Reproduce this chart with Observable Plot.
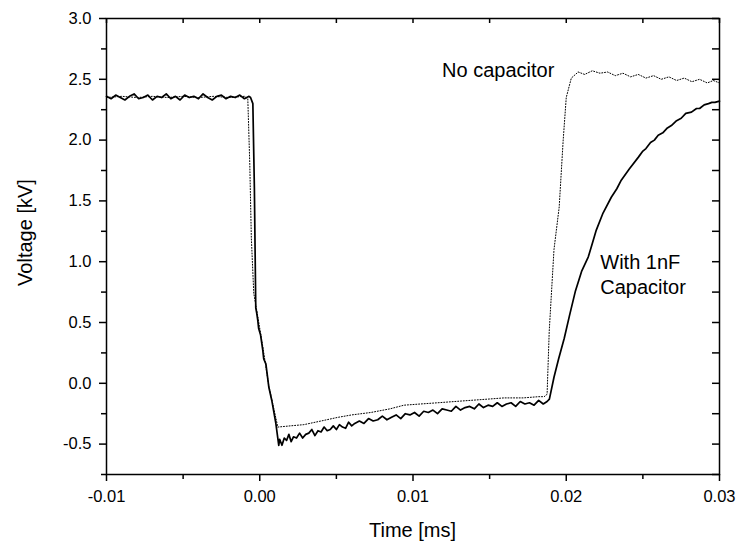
<!DOCTYPE html>
<html>
<head>
<meta charset="utf-8">
<script src="https://cdn.jsdelivr.net/npm/d3@7"></script>
<script src="https://cdn.jsdelivr.net/npm/@observablehq/plot@0.6"></script>
<style>
  html, body { margin: 0; padding: 0; background: white; }
</style>
</head>
<body>
<div id="chart"></div>
<script>
// With 1nF capacitor (solid trace), time in ms, voltage in kV
const tSolid = [
  -0.0100,-0.0097,-0.0094,-0.0091,-0.0088,-0.0085,-0.0082,-0.0079,-0.0076,-0.0073,
  -0.0070,-0.0067,-0.0064,-0.0061,-0.0058,-0.0055,-0.0052,-0.0049,-0.0046,-0.0043,
  -0.0040,-0.0037,-0.0034,-0.0031,-0.0028,-0.0025,-0.0022,-0.0019,-0.0016,-0.0013,
  -0.0010,-0.0007,-0.0006,
  -0.00045,-0.00035,-0.00026,-0.00020,-0.00013,-0.00007,0.00005,0.00020,0.00026,0.00040,
  0.00059,0.00080,0.00105,0.00124,
  0.00130,0.00145,0.00160,0.00175,0.00190,0.00205,0.00220,0.00240,0.00260,0.00280,
  0.00300,0.00320,0.00340,0.00360,0.00380,0.00400,0.00420,0.00440,0.00460,0.00480,
  0.00500,0.00520,0.00540,0.00560,0.00580,0.00600,0.00620,0.00650,0.00680,0.00710,
  0.00740,0.00770,0.00800,0.00830,0.00860,0.00890,0.00920,0.00950,0.00980,0.01010,
  0.01040,0.01070,0.01100,0.01130,0.01160,0.01190,0.01220,0.01250,0.01280,0.01310,
  0.01340,0.01370,0.01400,0.01430,0.01460,0.01490,0.01520,0.01550,0.01580,0.01610,
  0.01640,0.01670,0.01700,0.01730,0.01760,0.01790,0.01820,0.01850,0.01875,
  0.01890,0.01920,0.01950,0.01987,0.02020,0.02060,0.02100,0.02144,0.02170,0.02196,
  0.02240,0.02294,0.02330,0.02359,0.02410,0.02471,0.02500,0.02520,0.02550,0.02575,
  0.02600,0.02630,0.02660,0.02686,0.02720,0.02750,0.02780,0.02817,0.02850,0.02870,
  0.02900,0.02928,0.02950,0.02970,0.03000
];
const vSolid = [
  2.36,2.34,2.37,2.35,2.33,2.36,2.38,2.34,2.35,2.37,
  2.33,2.36,2.35,2.38,2.34,2.36,2.33,2.37,2.35,2.36,
  2.34,2.38,2.35,2.33,2.36,2.37,2.34,2.36,2.35,2.37,
  2.34,2.36,2.35,
  2.30,1.60,0.62,0.58,0.52,0.45,0.40,0.27,0.20,0.16,
  -0.03,-0.15,-0.33,-0.51,
  -0.46,-0.51,-0.45,-0.47,-0.42,-0.48,-0.44,-0.45,-0.41,-0.45,
  -0.42,-0.41,-0.38,-0.43,-0.39,-0.40,-0.36,-0.39,-0.38,-0.35,
  -0.38,-0.34,-0.36,-0.37,-0.32,-0.35,-0.33,-0.31,-0.33,-0.29,
  -0.31,-0.30,-0.27,-0.30,-0.28,-0.26,-0.29,-0.25,-0.26,-0.24,
  -0.27,-0.23,-0.24,-0.22,-0.25,-0.21,-0.22,-0.23,-0.19,-0.22,
  -0.20,-0.19,-0.21,-0.17,-0.20,-0.18,-0.19,-0.16,-0.19,-0.17,
  -0.16,-0.19,-0.15,-0.17,-0.16,-0.18,-0.14,-0.17,-0.15,
  -0.13,0.05,0.20,0.37,0.55,0.76,0.92,1.04,1.15,1.26,
  1.40,1.53,1.60,1.67,1.76,1.86,1.91,1.93,1.98,2.00,
  2.04,2.06,2.10,2.12,2.16,2.18,2.22,2.23,2.26,2.26,
  2.29,2.30,2.31,2.31,2.32
];
// No capacitor (dotted trace)
const tDot = [
  -0.0100,-0.0090,-0.0080,-0.0070,-0.0060,-0.0050,-0.0040,-0.0030,-0.0020,-0.0010,
  -0.00078,-0.00065,-0.00055,-0.00039,-0.00013,0.00020,0.00059,0.00118,0.00200,0.00288,
  0.00400,0.00510,0.00600,0.00725,0.00850,0.00941,0.01050,0.01163,0.01270,0.01379,
  0.01490,0.01595,0.01720,0.01820,0.01856,0.01875,0.01889,0.01920,0.01954,0.01980,
  0.02000,0.02033,0.02078,0.02120,0.02170,0.02220,0.02270,0.02320,0.02370,0.02420,
  0.02470,0.02520,0.02570,0.02620,0.02670,0.02720,0.02770,0.02820,0.02870,0.02920,
  0.02960,0.03000
];
const vDot = [
  2.35,2.36,2.35,2.36,2.35,2.36,2.35,2.36,2.35,2.36,
  2.34,1.80,1.20,0.74,0.55,0.30,-0.02,-0.36,-0.35,-0.34,
  -0.31,-0.28,-0.26,-0.24,-0.21,-0.18,-0.17,-0.16,-0.15,-0.14,
  -0.13,-0.12,-0.12,-0.11,-0.11,-0.09,0.43,1.10,1.45,2.00,
  2.35,2.51,2.56,2.54,2.57,2.55,2.56,2.53,2.55,2.52,
  2.54,2.51,2.53,2.50,2.52,2.49,2.51,2.48,2.50,2.47,
  2.49,2.47
];
const xMajor = [-0.01, 0.00, 0.01, 0.02, 0.03];
const xMinor = [-0.005, 0.005, 0.015, 0.025];
const yMajor = [-0.5, 0.0, 0.5, 1.0, 1.5, 2.0, 2.5, 3.0];
const yMinor = [-0.75, -0.25, 0.25, 0.75, 1.25, 1.75, 2.25, 2.75];
const xTitle = "Time [ms]";
const yTitle = "Voltage [kV]";
const noteText = ["No capacitor", "With 1nF", "Capacitor"];
const noteX = [0.0119, 0.02222, 0.02222];
const noteY = [2.572, 0.989, 0.783];

const solid = tSolid.map((t, i) => ({t, v: vSolid[i]}));
const dotted = tDot.map((t, i) => ({t, v: vDot[i]}));
const notes = noteText.map((s, i) => ({s, x: noteX[i], y: noteY[i]}));

const W = 738, H = 545, mL = 106, mR = 19, mT = 18, mB = 71;
const plotW = W - mL - mR, plotH = H - mT - mB;

const chart = Plot.plot({
  width: W,
  height: H,
  marginLeft: mL,
  marginRight: mR,
  marginTop: mT,
  marginBottom: mB,
  x: {domain: [-0.01, 0.03]},
  y: {domain: [-0.75, 3.0]},
  style: {fontFamily: "'Liberation Sans', Arial, sans-serif", fontSize: "16.5px", color: "black", background: "white"},
  marks: [
    Plot.axisX({ticks: xMajor, tickSize: 7, tickPadding: 9, tickFormat: d => d.toFixed(2), fontSize: 16.5, label: null, strokeWidth: 1.5}),
    Plot.axisX({ticks: xMinor, tickSize: 5, tickFormat: () => "", label: null, strokeWidth: 1.5}),
    Plot.axisY({ticks: yMajor, tickSize: 7, tickPadding: 8, tickFormat: d => d.toFixed(1), fontSize: 16.5, label: null, strokeWidth: 1.5}),
    Plot.axisY({ticks: yMinor, tickSize: 5, tickFormat: () => "", label: null, strokeWidth: 1.5}),
    // inward ticks on top and right edges
    Plot.ruleX(xMajor.concat(xMinor), {x: d => d, stroke: "black", strokeWidth: 1.5, insetBottom: plotH - 5}),
    Plot.ruleY(yMajor.concat(yMinor), {y: d => d, stroke: "black", strokeWidth: 1.5, insetLeft: plotW - 7}),
    Plot.frame({stroke: "black", strokeWidth: 1.5}),
    Plot.line(solid, {x: "t", y: "v", stroke: "black", strokeWidth: 1.7}),
    Plot.line(dotted, {x: "t", y: "v", stroke: "black", strokeWidth: 1, strokeDasharray: "1,1.8"}),
    Plot.text(notes, {x: "x", y: "y", text: "s", textAnchor: "start", fontSize: 20, fill: "black"})
  ]
});

const svg = d3.select(chart);
svg.append("text")
  .attr("x", mL + plotW / 2).attr("y", 536.5)
  .attr("text-anchor", "middle")
  .attr("font-size", 20).attr("fill", "black")
  .text(xTitle);
svg.append("text")
  .attr("transform", "translate(31.5,232.5) rotate(-90)")
  .attr("text-anchor", "middle")
  .attr("font-size", 20).attr("fill", "black")
  .text(yTitle);

document.getElementById("chart").appendChild(chart);
</script>
</body>
</html>
